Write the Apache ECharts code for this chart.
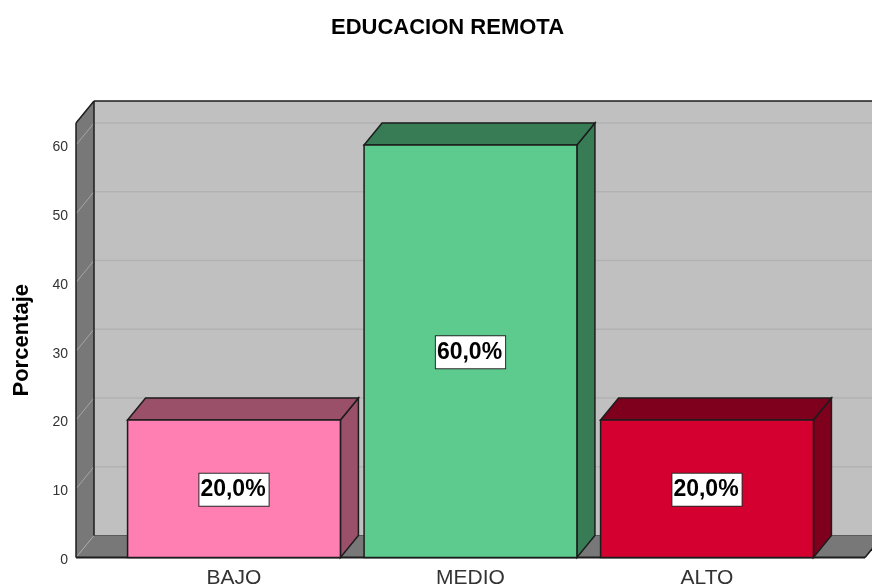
<!DOCTYPE html>
<html>
<head>
<meta charset="utf-8">
<style>html,body{margin:0;padding:0;background:#fff}#c{width:872px;height:586px}</style>
<script src="https://cdn.jsdelivr.net/npm/echarts@6/dist/echarts.min.js"></script>
</head>
<body>
<div id="c"></div>
<script>
const categories = ['BAJO', 'MEDIO', 'ALTO'];
const percentages = [20, 60, 20];
const valueLabels = ['20,0%', '60,0%', '20,0%'];
const yTicks = [0, 10, 20, 30, 40, 50, 60];
const frontColors = ['#FF7FB2', '#5DCB8D', '#D4002F'];
const sideColors = ['#9B5069', '#387C55', '#7E001C'];

const DX = 18, DY = -22;
const AXIS_GAP = 39.75;
const FLOOR_EXTRA = 39.75;
const LINE = '#1c1c1c';
const FONT = '"Liberation Sans", Arial, sans-serif';

const chart = echarts.init(document.getElementById('c'), null, {renderer: 'canvas'});

function poly(points, fill, stroke, width) {
  return {type: 'polygon', shape: {points},
    style: {fill, stroke: stroke || 'none', lineWidth: width || 0}};
}
function line(x1, y1, x2, y2, stroke, width) {
  return {type: 'line', shape: {x1, y1, x2, y2}, style: {stroke, lineWidth: width}};
}

function renderWalls(params, api) {
  const cs = params.coordSys;
  const left = cs.x - AXIS_GAP;
  const right = cs.x + cs.width + FLOOR_EXTRA;
  const bottom = cs.y + cs.height;
  const top = cs.y;
  const children = [
    poly([[left + DX, top + DY], [right + DX, top + DY], [right + DX, bottom + DY], [left + DX, bottom + DY]], '#C0C0C0'),
    poly([[left, top], [left + DX, top + DY], [left + DX, bottom + DY], [left, bottom]], '#787878'),
    poly([[left, bottom], [left + DX, bottom + DY], [right + DX, bottom + DY], [right, bottom]], '#787878')
  ];
  yTicks.forEach(function (t) {
    const y = api.coord([0, t])[1];
    if (t > 0) children.push(line(left + DX, y + DY, right + DX, y + DY, '#B2B2B2', 1.5));
    children.push(line(left, y, left + DX, y + DY, '#A6A6A6', 1));
  });
  children.push(line(left + DX, bottom + DY, right + DX, bottom + DY, '#5a5a5a', 1));
  children.push(line(left + DX, top + DY, right + DX, top + DY, LINE, 1.5));
  children.push(line(left + DX, top + DY, left + DX, bottom + DY, LINE, 1.5));
  children.push(line(left, top, left + DX, top + DY, LINE, 1.5));
  children.push(line(left, top, left, bottom, LINE, 1.5));
  children.push(line(left, bottom, right, bottom, LINE, 2));
  children.push(line(right, bottom, right + DX, bottom + DY, LINE, 1.5));
  return {type: 'group', children};
}

function renderBar(params, api) {
  const i = api.value(0), v = api.value(1);
  const c = api.coord([i, v]);
  const base = api.coord([i, 0]);
  const mid = api.coord([i, v / 2]);
  const w = api.size([1, 0])[0] * 0.9;
  const x0 = c[0] - w / 2, x1 = c[0] + w / 2, yT = c[1], yB = base[1];
  return {type: 'group', children: [
    poly([[x1, yT], [x1 + DX, yT + DY], [x1 + DX, yB + DY], [x1, yB]], sideColors[i], LINE, 1.5),
    poly([[x0, yT], [x0 + DX, yT + DY], [x1 + DX, yT + DY], [x1, yT]], sideColors[i], LINE, 1.5),
    poly([[x0, yT], [x1, yT], [x1, yB], [x0, yB]], frontColors[i], LINE, 1.5),
    {type: 'text', x: mid[0], y: mid[1] + 1, style: {
      text: valueLabels[i], align: 'center', verticalAlign: 'middle',
      font: 'bold 23px ' + FONT, fill: '#000',
      backgroundColor: '#fff', borderColor: '#2a2a2a', borderWidth: 1,
      padding: [5, 3, 4, 1]
    }}
  ]};
}

chart.setOption({
  animation: false,
  backgroundColor: '#ffffff',
  title: {
    text: 'EDUCACION REMOTA', left: 331, top: 17, padding: 0,
    textStyle: {fontFamily: FONT, fontWeight: 'bold', fontSize: 22, color: '#000'}
  },
  grid: {left: 115.75, top: 123, width: 709.5, bottom: 28.5, containLabel: false, outerBoundsMode: 'none'},
  xAxis: {
    type: 'category', data: categories,
    axisLine: {show: false}, axisTick: {show: false},
    axisLabel: {fontFamily: FONT, fontSize: 21, color: '#333', margin: 10}
  },
  yAxis: {
    type: 'value', min: 0, max: 63.2, interval: 10, offset: AXIS_GAP,
    name: 'Porcentaje', nameLocation: 'middle', nameGap: 43, nameRotate: 90,
    nameTextStyle: {fontFamily: FONT, fontWeight: 'bold', fontSize: 22, color: '#000'},
    axisLine: {show: false}, axisTick: {show: false}, splitLine: {show: false},
    axisLabel: {fontFamily: FONT, fontSize: 14, color: '#333', margin: 8,
      verticalAlign: 'top', lineHeight: 5, customValues: yTicks}
  },
  series: [
    {type: 'custom', renderItem: renderWalls, data: [[0, 0]], clip: false, z: 1, silent: true},
    {type: 'custom', renderItem: renderBar, clip: false, z: 2, silent: true,
      encode: {x: 0, y: 1},
      data: percentages.map(function (v, i) { return [i, v]; })}
  ]
});
</script>
</body>
</html>
